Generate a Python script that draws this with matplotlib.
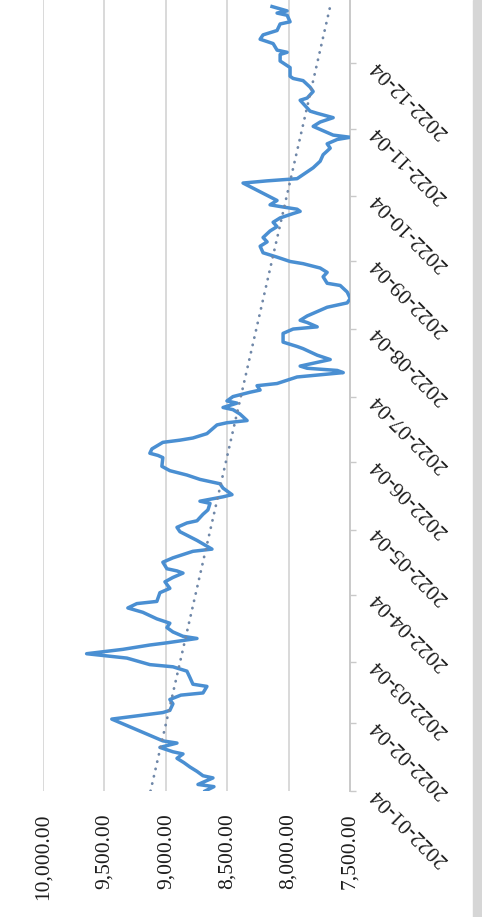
import matplotlib
matplotlib.use("Agg")
import matplotlib.pyplot as plt
import matplotlib.dates as mdates
from matplotlib.patches import Rectangle
import numpy as np
import pandas as pd

# daily index closes, 2022 (month-day)
month_days = [
    "01-04", "01-06", "01-07", "01-10", "01-11", "01-13", "01-15", "01-17", "01-19", "01-21",
    "01-22", "01-24", "01-26", "01-27", "02-06", "02-09", "02-10", "02-13", "02-15", "02-17",
    "02-18", "02-21", "02-22", "02-25", "02-28", "03-02", "03-03", "03-06", "03-07", "03-08",
    "03-10", "03-12", "03-13", "03-15", "03-16", "03-18", "03-20", "03-22", "03-24", "03-27",
    "03-29", "03-31", "04-01", "04-05", "04-07", "04-10", "04-12", "04-14", "04-15", "04-16",
    "04-19", "04-21", "04-24", "04-25", "04-29", "05-03", "05-05", "05-07", "05-08", "05-11",
    "05-13", "05-16", "05-17", "05-19", "05-20", "05-23", "05-25", "05-27", "05-29", "05-31",
    "06-02", "06-06", "06-07", "06-08", "06-10", "06-13", "06-14", "06-15", "06-17", "06-21",
    "06-22", "06-23", "06-26", "06-28", "06-29", "07-01", "07-02", "07-04", "07-06", "07-07",
    "07-09", "07-10", "07-13", "07-14", "07-15", "07-16", "07-17", "07-18", "07-20", "07-21",
    "07-23", "07-26", "07-27", "07-29", "08-02", "08-04", "08-05", "08-07", "08-08", "08-10",
    "08-14", "08-16", "08-18", "08-21", "08-24", "08-25", "08-28", "08-30", "09-01", "09-03",
    "09-04", "09-06", "09-08", "09-11", "09-13", "09-15", "09-18", "09-20", "09-22", "09-24",
    "09-26", "09-27", "09-28", "09-29", "09-30", "10-02", "10-10", "10-11", "10-12", "10-17",
    "10-20", "10-23", "10-26", "10-28", "10-30", "10-31", "11-01", "11-03", "11-05", "11-07",
    "11-09", "11-11", "11-12", "11-17", "11-18", "11-21", "11-23", "11-26", "11-27", "11-28",
    "12-02", "12-05", "12-08", "12-09", "12-10", "12-13", "12-15", "12-17", "12-19", "12-22",
    "12-23", "12-26", "12-27", "12-28", "12-30",
]
closes = [
    8680, 8608, 8738, 8616, 8697, 8746, 8803, 8852, 8909, 8860,
    8942, 9048, 8909, 9024, 9440, 9024, 8967, 8942, 8967, 8877,
    8697, 8665, 8779, 8803, 8828, 8942, 9130, 9317, 9480, 9645,
    9350, 9130, 8991, 8746, 8860, 8942, 8991, 8967, 9073, 9187,
    9309, 9236, 9073, 9048, 8967, 9007, 8942, 8860, 8909, 8991,
    9024, 8942, 8779, 8624, 8746, 8885, 8909, 8828, 8746, 8697,
    8657, 8640, 8722, 8534, 8461, 8534, 8559, 8722, 8828, 8967,
    9032, 9024, 9064, 9130, 9113, 9024, 8885, 8779, 8665, 8583,
    8502, 8338, 8396, 8453, 8534, 8420, 8502, 8453, 8314, 8232,
    8257, 8094, 7931, 7743, 7555, 7604, 7849, 7906, 7743, 7661,
    7767, 7882, 7931, 8045, 8045, 7963, 7767, 7849, 7906, 7849,
    7686, 7523, 7498, 7523, 7580, 7686, 7719, 7686, 7743, 7882,
    7988, 8094, 8208, 8232, 8175, 8208, 8151, 8094, 8126, 8069,
    7963, 7906, 7931, 8045, 8151, 8094, 8371, 8175, 7931, 7800,
    7743, 7719, 7661, 7686, 7604, 7498, 7637, 7719, 7800, 7743,
    7637, 7767, 7825, 7906, 7849, 7800, 7825, 7882, 7963, 7988,
    7988, 8069, 8069, 8012, 8094, 8126, 8232, 8208, 8094, 8069,
    7988, 8012, 8094, 8012, 8135,
]

value_ticks = [10000, 9500, 9000, 8500, 8000, 7500]
date_ticks = ["2022-01-04", "2022-02-04", "2022-03-04", "2022-04-04", "2022-05-04", "2022-06-04",
              "2022-07-04", "2022-08-04", "2022-09-04", "2022-10-04", "2022-11-04", "2022-12-04"]

dates = pd.to_datetime(["2022-" + md for md in month_days])
values = np.asarray(closes, dtype=float)

plt.rcParams["font.family"] = ["Liberation Serif", "DejaVu Serif"]

W, H = 482, 917
fig = plt.figure(figsize=(W / 100, H / 100), dpi=100)
fig.patch.set_facecolor("white")
ax = fig.add_axes([43 / W, (H - 791) / H, (350 - 43) / W, 791 / H])

# values run right-to-left, dates bottom-to-top
ax.plot(values, dates, color="#4a8fd2", linewidth=2.5, solid_joinstyle="round", zorder=3)

# linear trend over the same dates
t = mdates.date2num(dates)
slope, intercept = np.polyfit(t, values, 1)
t_line = np.array([t[0], t[-1]])
ax.plot(slope * t_line + intercept, mdates.num2date(t_line), color="#6f87a8",
        linewidth=2.0, linestyle=(0, (0.1, 2.6)), dash_capstyle="round", zorder=4)

ax.set_xlim(10000, 7500)
ax.set_ylim(pd.Timestamp("2022-01-04"), pd.Timestamp("2023-01-02"))

for v in value_ticks[:-1]:
    ax.axvline(v, color="#d9d9d9", linewidth=1.4, zorder=1)

for side in ["top", "left", "bottom"]:
    ax.spines[side].set_visible(False)
ax.spines["right"].set_color("#c9c9c9")
ax.spines["right"].set_linewidth(1.4)

ax.set_xticks(value_ticks)
ax.set_xticklabels([f"{v:,.2f}" for v in value_ticks])
ax.tick_params(axis="x", length=0, pad=16, labelsize=15.5, labelcolor="#1e1e1e", labelrotation=90)

ax.yaxis.tick_right()
tick_dates = pd.to_datetime(date_ticks)
ax.set_yticks(tick_dates)
ax.set_yticklabels([d.strftime("%Y-%m-%d") for d in tick_dates])
ax.tick_params(axis="y", direction="out", length=4, width=1, color="#c9c9c9",
               pad=13, labelsize=15.5, labelcolor="#1e1e1e")
for lab in ax.get_yticklabels():
    lab.set_rotation(135)
    lab.set_rotation_mode("anchor")
    lab.set_ha("right")
    lab.set_va("center")

# grey frame edge on the right
fig.patches.append(Rectangle((473 / W, 0), 9 / W, 1, transform=fig.transFigure,
                             color="#d6d6d6", zorder=0))

fig.savefig("out.png", dpi=100)
